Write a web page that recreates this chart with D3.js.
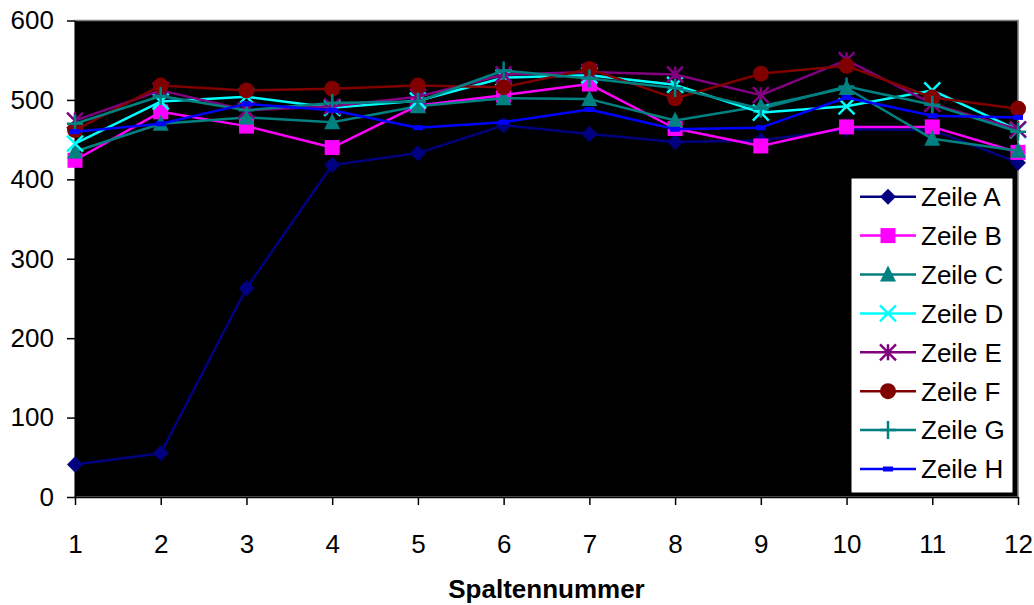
<!DOCTYPE html>
<html>
<head>
<meta charset="utf-8">
<script src="https://cdn.jsdelivr.net/npm/d3@7"></script>
<style>
  html, body { margin: 0; padding: 0; background: #ffffff; }
  svg { display: block; font-family: "Liberation Sans", Arial, sans-serif; }
</style>
</head>
<body>
<svg id="chart" width="1034" height="605"></svg>
<script>
// Column numbers along the x axis
const columns = [1, 2, 3, 4, 5, 6, 7, 8, 9, 10, 11, 12];
const yTicks = [0, 100, 200, 300, 400, 500, 600];

// Measured values per row
const zeileA = [41, 55, 263, 418, 433, 468, 457, 447, 449, 463, 462, 421];
const zeileB = [424, 485, 467, 440, 493, 506, 520, 464, 442, 466, 466, 434];
const zeileC = [435, 470, 478, 472, 492, 502, 501, 474, 492, 515, 451, 436];
const zeileD = [445, 498, 504, 490, 499, 528, 531, 519, 484, 492, 512, 462];
const zeileE = [474, 512, 487, 492, 504, 532, 535, 532, 506, 550, 495, 463];
const zeileF = [462, 518, 512, 514, 518, 516, 539, 502, 533, 543, 503, 489];
const zeileG = [470, 505, 487, 496, 498, 537, 527, 515, 489, 517, 494, 460];
const zeileH = [460, 470, 495, 487, 465, 472, 488, 463, 465, 503, 480, 478];

const seriesNames = ["Zeile A", "Zeile B", "Zeile C", "Zeile D", "Zeile E", "Zeile F", "Zeile G", "Zeile H"];
const seriesValues = [zeileA, zeileB, zeileC, zeileD, zeileE, zeileF, zeileG, zeileH];
const seriesColors = ["#000080", "#FF00FF", "#008080", "#00FFFF", "#800080", "#800000", "#008080", "#0000FF"];
const seriesMarkers = ["diamond", "square", "triangle", "cross", "star", "circle", "plus", "dash"];

const svg = d3.select("#chart");
const plot = { left: 75, right: 1018, top: 20.5, bottom: 497 };

const x = d3.scaleLinear().domain([1, 12]).range([plot.left, plot.right]);
const y = d3.scaleLinear().domain([0, 600]).range([plot.bottom, plot.top]);

// Plot area
svg.append("rect")
  .attr("x", plot.left).attr("y", plot.top)
  .attr("width", plot.right - plot.left).attr("height", plot.bottom - plot.top)
  .attr("fill", "#000000")
  .attr("stroke", "#808080").attr("stroke-width", 1.5);

const fontSize = 26;

// Y axis
const yAxis = svg.append("g")
  .attr("transform", `translate(${plot.left},0)`)
  .call(d3.axisLeft(y).tickValues(yTicks).tickSize(8).tickPadding(13).tickSizeOuter(0));
yAxis.select(".domain").attr("stroke", "#000").attr("stroke-width", 1.5);
yAxis.selectAll(".tick line").attr("stroke", "#000").attr("stroke-width", 1.5);
yAxis.selectAll(".tick text").attr("font-size", fontSize).attr("fill", "#000")
  .attr("font-family", "Liberation Sans, Arial, sans-serif");

// X axis
const xAxis = svg.append("g")
  .attr("transform", `translate(0,${plot.bottom})`)
  .call(d3.axisBottom(x).tickValues(columns).tickFormat(d3.format("d")).tickSize(8).tickPadding(30).tickSizeOuter(0));
xAxis.select(".domain").attr("stroke", "#000").attr("stroke-width", 1.5);
xAxis.selectAll(".tick line").attr("stroke", "#000").attr("stroke-width", 1.5);
xAxis.selectAll(".tick text").attr("font-size", fontSize).attr("fill", "#000")
  .attr("font-family", "Liberation Sans, Arial, sans-serif");

// Axis title
svg.append("text")
  .attr("x", (plot.left + plot.right) / 2).attr("y", 598)
  .attr("text-anchor", "middle")
  .attr("font-size", fontSize).attr("font-weight", "bold")
  .text("Spaltennummer");

// Marker drawing
function drawMarker(g, type, color) {
  const s = 8;
  switch (type) {
    case "diamond":
      g.append("path").attr("d", `M0,${-s}L${s},0L0,${s}L${-s},0Z`).attr("fill", color);
      break;
    case "square":
      g.append("rect").attr("x", -7.5).attr("y", -7.5).attr("width", 15).attr("height", 15).attr("fill", color);
      break;
    case "triangle":
      g.append("path").attr("d", `M0,${-s - 1}L${s},${s - 1}L${-s},${s - 1}Z`).attr("fill", color);
      break;
    case "cross":
      g.append("path").attr("d", `M${-s},${-s}L${s},${s}M${-s},${s}L${s},${-s}`)
        .attr("stroke", color).attr("stroke-width", 2.5).attr("fill", "none");
      break;
    case "star":
      g.append("path").attr("d", `M${-s},${-s}L${s},${s}M${-s},${s}L${s},${-s}M0,${-s}L0,${s}`)
        .attr("stroke", color).attr("stroke-width", 2.5).attr("fill", "none");
      break;
    case "circle":
      g.append("circle").attr("r", 8).attr("fill", color);
      break;
    case "plus":
      g.append("path").attr("d", `M0,${-s - 1}L0,${s + 1}M${-s},0L${s},0`)
        .attr("stroke", color).attr("stroke-width", 2.5).attr("fill", "none");
      break;
    case "dash":
      g.append("rect").attr("x", -5).attr("y", -2.5).attr("width", 10).attr("height", 5).attr("fill", color);
      break;
  }
}

// Series lines with markers
const line = d3.line().x((d, i) => x(columns[i])).y(d => y(d));
const seriesLayer = svg.append("g");
seriesValues.forEach((vals, si) => {
  const g = seriesLayer.append("g");
  g.append("path").attr("d", line(vals))
    .attr("fill", "none").attr("stroke", seriesColors[si]).attr("stroke-width", 2.5)
    .attr("stroke-linejoin", "round");
  vals.forEach((v, i) => {
    const m = g.append("g").attr("transform", `translate(${x(columns[i])},${y(v)})`);
    drawMarker(m, seriesMarkers[si], seriesColors[si]);
  });
});

// Legend
const legend = { x: 851, y: 178, w: 162, h: 315, rowTop: 196.7, rowStep: 38.9 };
svg.append("rect")
  .attr("x", legend.x).attr("y", legend.y).attr("width", legend.w).attr("height", legend.h)
  .attr("fill", "#ffffff").attr("stroke", "#000").attr("stroke-width", 1);
seriesNames.forEach((name, si) => {
  const cy = legend.rowTop + si * legend.rowStep;
  const g = svg.append("g");
  g.append("line").attr("x1", 860).attr("x2", 916).attr("y1", cy).attr("y2", cy)
    .attr("stroke", seriesColors[si]).attr("stroke-width", 2.5);
  const m = g.append("g").attr("transform", `translate(888,${cy})`);
  drawMarker(m, seriesMarkers[si], seriesColors[si]);
  g.append("text").attr("x", 921).attr("y", cy).attr("dy", "0.36em")
    .attr("font-size", fontSize).attr("fill", "#000").text(name);
});
</script>
</body>
</html>
